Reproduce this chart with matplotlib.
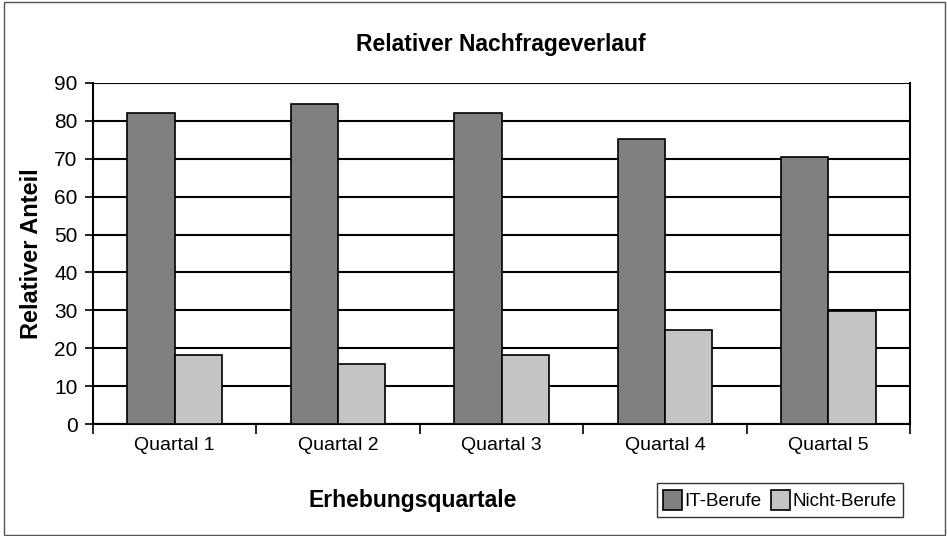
import matplotlib
matplotlib.use("Agg")
import matplotlib.pyplot as plt
import numpy as np
from matplotlib.patches import Rectangle

plt.rcParams['font.family'] = ['Liberation Sans', 'DejaVu Sans']

categories = ["Quartal 1", "Quartal 2", "Quartal 3", "Quartal 4", "Quartal 5"]
it_berufe = [82.0, 84.4, 82.0, 75.2, 70.4]
nicht_berufe = [18.2, 15.8, 18.2, 24.9, 29.7]
series_names = ["IT-Berufe", "Nicht-Berufe"]
yticks = list(range(0, 91, 10))

fig = plt.figure(figsize=(9.47, 5.36), dpi=100)
ax = fig.add_axes([93/947, 1 - 424/536, (910-93)/947, (424-83)/536])

x = np.arange(len(categories))
w = 0.29
ax.bar(x - w/2, it_berufe, w, color="#808080", edgecolor="black", linewidth=1.2, label=series_names[0], zorder=3)
ax.bar(x + w/2, nicht_berufe, w, color="#c4c4c4", edgecolor="black", linewidth=1.2, label=series_names[1], zorder=3)

ax.set_xlim(-0.5, len(categories) - 0.5)
ax.set_ylim(0, 90)
ax.set_yticks(yticks)
ax.yaxis.grid(True, color="black", linewidth=1.5, zorder=0)
ax.set_axisbelow(True)
ax.set_xticks(x)
ax.set_xticklabels(categories)
ax.tick_params(axis='x', length=0, labelsize=14, pad=9)
ax.set_xticks(np.arange(-0.5, len(categories), 1.0), minor=True)
ax.tick_params(axis='x', which='minor', length=7, width=1.2, direction='out')
ax.tick_params(axis='y', length=6, width=1.2, labelsize=15, direction='out', pad=5)
for s in ["left", "right", "bottom"]:
    ax.spines[s].set_linewidth(1.5)
ax.spines["top"].set_visible(False)

fig.text(501/947, 1 - 44/536, "Relativer Nachfrageverlauf", ha="center", va="center", fontsize=16.5, fontweight="bold")
fig.text(31/947, 1 - 254/536, "Relativer Anteil", ha="center", va="center", rotation=90, fontsize=17, fontweight="bold")
fig.text(413/947, 1 - 500/536, "Erhebungsquartale", ha="center", va="center", fontsize=16.5, fontweight="bold")

leg = fig.legend(loc="center", bbox_to_anchor=(780/947, 1 - 500/536), ncol=2, frameon=True, fancybox=False,
                 edgecolor="black", fontsize=13.5, handlelength=1.0, handleheight=1.3, handletextpad=0.15,
                 columnspacing=0.5, borderpad=0.35)
leg.get_frame().set_linewidth(1.0)

fig.patches.append(Rectangle((4/947, 1/536), 941/947, 533/536, transform=fig.transFigure,
                             fill=False, edgecolor="#555555", linewidth=1.0))

fig.savefig("out.png", dpi=100)
